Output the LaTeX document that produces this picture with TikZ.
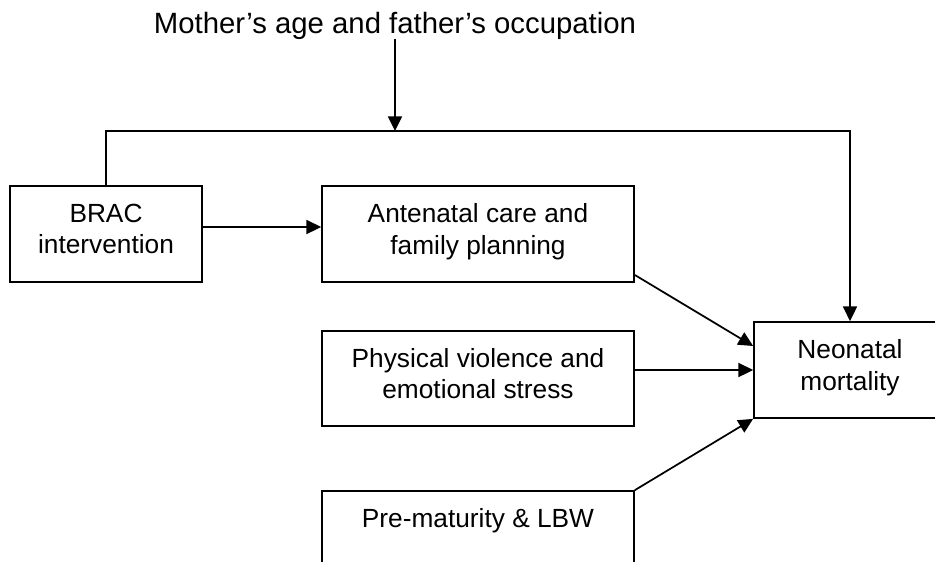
\documentclass[tikz,border=0pt]{standalone}
\usepackage{fontspec}
\setmainfont{Liberation Sans}
\usetikzlibrary{arrows.meta}
\tikzset{
  px/.style={x=0.75pt,y=-0.75pt},
  box/.style={draw,line width=1.3pt,align=center,inner sep=0pt,
    font=\fontsize{19.7pt}{23.4pt}\selectfont,text depth=7.5pt},
  conn/.style={line width=1.3pt},
  arr/.style={conn,-{Triangle[length=11pt,width=10.5pt]}},
}
\begin{document}
\begin{tikzpicture}[px]
\clip (0,0) rectangle (935,561);
\fill[white] (0,0) rectangle (935,561);
\node[font=\fontsize{22pt}{26pt}\selectfont,inner sep=0pt,anchor=base] (title) at (395,33) {Mother’s age and father’s occupation};
\node[box,minimum width=144pt,minimum height=72pt] (brac) at (106,234) {BRAC\\intervention};
\node[box,minimum width=234pt,minimum height=72pt] (ante) at (478,234) {Antenatal care and\\family planning};
\node[box,minimum width=234pt,minimum height=71pt] (phys) at (478,378.5) {Physical violence and\\emotional stress};
\node[box,minimum width=144pt,minimum height=72pt] (neo) at (850,370) {Neonatal\\mortality};
\node[box,minimum width=234pt,minimum height=72pt] (pre) at (478,539) {Pre-maturity \& LBW\\\strut};
\coordinate (topline) at (395,131);
\coordinate (ab) at (0,227);
\coordinate (anteout) at (0,275);
\coordinate (antein) at (0,346);
\draw[arr] (title.south) -- (topline);
\draw[arr] (brac.north) |- (topline) -| (neo.north);
\draw[arr] (brac.east |- ab) -- (ante.west |- ab);
\draw[arr] (ante.east |- anteout) -- (neo.west |- antein);
\draw[arr] (phys.east |- neo.west) -- (neo.west);
\draw[arr] (pre.north east) -- (neo.south west);
\end{tikzpicture}
\end{document}
